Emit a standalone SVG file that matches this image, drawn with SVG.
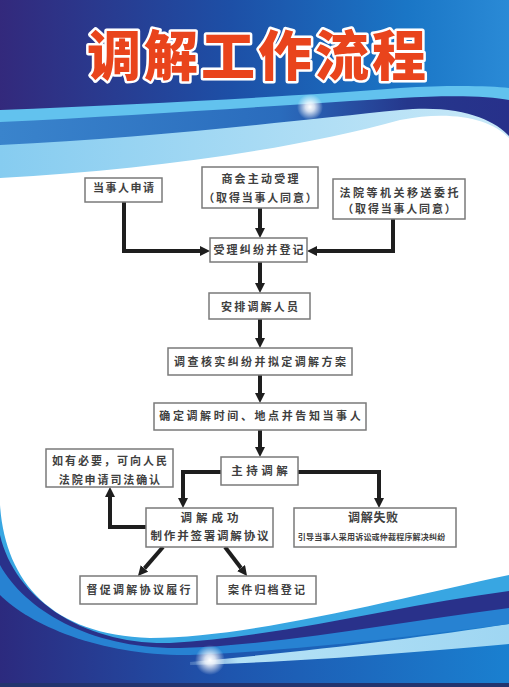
<svg xmlns="http://www.w3.org/2000/svg" width="509" height="687" viewBox="0 0 509 687">
<defs>
<linearGradient id="gTop" x1="0" y1="0" x2="1" y2="0">
<stop offset="0" stop-color="#33297c"/><stop offset="0.45" stop-color="#1d4fa6"/><stop offset="0.8" stop-color="#1a76c6"/><stop offset="1" stop-color="#2a8ad6"/>
</linearGradient>
<linearGradient id="gMid" x1="0" y1="0" x2="1" y2="0">
<stop offset="0" stop-color="#3a84cc"/><stop offset="0.55" stop-color="#2a6cbd"/><stop offset="0.8" stop-color="#25378c"/><stop offset="1" stop-color="#27308a"/>
</linearGradient>
<linearGradient id="gLight" x1="0" y1="0" x2="1" y2="0">
<stop offset="0" stop-color="#86ccf0"/><stop offset="1" stop-color="#c9e9f8"/>
</linearGradient>
<linearGradient id="gBot" x1="0" y1="0" x2="1" y2="0">
<stop offset="0" stop-color="#2c2a7e"/><stop offset="0.45" stop-color="#1e55ae"/><stop offset="1" stop-color="#1a80d0"/>
</linearGradient>
<linearGradient id="gPale" x1="0" y1="0" x2="1" y2="0">
<stop offset="0" stop-color="#cdeefc" stop-opacity="0.2"/><stop offset="0.15" stop-color="#b5e2f6"/><stop offset="1" stop-color="#9fd6f2"/>
</linearGradient>
<radialGradient id="gSpark">
<stop offset="0" stop-color="#ffffff"/><stop offset="0.35" stop-color="#ffffff" stop-opacity="0.8"/><stop offset="1" stop-color="#ffffff" stop-opacity="0"/>
</radialGradient>
<marker id="ah" viewBox="0 0 10 10" refX="0" refY="5" markerWidth="10" markerHeight="10" markerUnits="userSpaceOnUse" orient="auto">
<path d="M0,0 L10,5 L0,10 z" fill="#1e1e1e"/>
</marker>
</defs>
<style>
.box{fill:#ffffff;stroke:#7a7a7a;stroke-width:1.5}
.t{font-family:"Noto Sans CJK SC","Noto Sans",sans-serif;font-weight:bold;fill:#404040;font-size:11px;text-anchor:middle}
.ln{fill:none;stroke:#1e1e1e;stroke-width:4;stroke-linejoin:miter;marker-end:url(#ah)}
.title{font-family:"Noto Sans CJK SC",sans-serif;font-weight:900;font-size:54px;fill:#e9441c;stroke:#ffffff;stroke-width:5;paint-order:stroke;stroke-linejoin:round;text-anchor:middle;letter-spacing:3px}
</style>
<g id="background">
<rect x="0" y="0" width="509" height="687" fill="url(#gTop)"/>
<path d="M0 110 C150 104 300 96 400 88 C450 85 490 86 509 88 L509 420 L0 420 Z" fill="#62c2ee"/>
<path d="M0 122 C150 115 300 104 400 98 C450 95 490 96 509 100 L509 420 L0 420 Z" fill="url(#gMid)"/>
<path d="M0 145 C150 138 300 120 400 110 C460 104 495 120 509 136 L509 420 L0 420 Z" fill="url(#gLight)"/>
<rect x="0" y="470" width="509" height="217" fill="url(#gBot)"/>
<path d="M190 662 C300 652 420 638 509 624 L509 644 C420 652 300 662 190 665 Z" fill="url(#gPale)"/>
<path d="M0 470 L509 470 L509 624 C400 638 280 652 190 655 C100 656 30 625 0 595 Z" fill="#2782d2"/>
<path d="M0 470 L509 470 L509 608 C400 622 280 645 180 648 C90 649 25 610 0 565 Z" fill="#29318a"/>
<path d="M0 470 L509 470 L509 591 C400 605 280 637 170 643 C85 645 15 600 0 535 Z" fill="#38a6e2"/>
<path d="M0 178 C150 170 300 148 400 120 C450 110 490 118 509 138 L509 575 C400 598 250 638 150 638 C50 635 5 580 0 505 Z" fill="#ffffff"/>
<rect x="0" y="683" width="509" height="4" fill="#22346e"/>
<circle cx="310" cy="107" r="13" fill="url(#gSpark)"/>
<circle cx="210" cy="660" r="15" fill="url(#gSpark)"/>
</g>
<text class="title" x="258" y="76">调解工作流程</text>
<g id="connectors">
<path class="ln" d="M124 202 V251 H200"/>
<path class="ln" d="M260 208 V228"/>
<path class="ln" d="M393 219 V251 H317"/>
<path class="ln" d="M260 262 V283"/>
<path class="ln" d="M260 319 V338"/>
<path class="ln" d="M260 375 V393"/>
<path class="ln" d="M260 430 V447"/>
<path class="ln" d="M221 472 H183 V498"/>
<path class="ln" d="M298 472 H379 V498"/>
<path class="ln" d="M146 527 H110 V497"/>
<path class="ln" d="M163 547 L144.5 568.4"/>
<path class="ln" d="M225 547 L241 568"/>
</g>
<g id="n1"><rect class="box" x="85" y="178" width="77" height="24"/><text class="t" x="124.2" y="192" style="letter-spacing:1.5px">当事人申请</text></g>
<g id="n2"><rect class="box" x="202" y="167" width="116" height="41"/><text class="t" x="261" y="183" style="letter-spacing:2.2px">商会主动受理</text><text class="t" x="260.9" y="202" style="letter-spacing:1.8px">（取得当事人同意）</text></g>
<g id="n3"><rect class="box" x="333" y="179" width="132" height="40"/><text class="t" x="400.2" y="197" style="letter-spacing:2.5px">法院等机关移送委托</text><text class="t" x="399.9" y="213" style="letter-spacing:1.8px">（取得当事人同意）</text></g>
<g id="n4"><rect class="box" x="210" y="238" width="97" height="24"/><text class="t" x="259.6" y="254" style="letter-spacing:2.2px">受理纠纷并登记</text></g>
<g id="n5"><rect class="box" x="209" y="293" width="101" height="26"/><text class="t" x="260.6" y="311" style="letter-spacing:2.2px">安排调解人员</text></g>
<g id="n6"><rect class="box" x="168" y="348" width="184" height="27"/><text class="t" x="261.2" y="366" style="letter-spacing:2.4px">调查核实纠纷并拟定调解方案</text></g>
<g id="n7"><rect class="box" x="154" y="403" width="212" height="27"/><text class="t" x="261.3" y="420" style="letter-spacing:2.6px">确定调解时间、地点并告知当事人</text></g>
<g id="n8"><rect class="box" x="221" y="457" width="77" height="28"/><text class="t" x="261.2" y="475" style="font-size:11.5px;letter-spacing:3.5px">主持调解</text></g>
<g id="n9"><rect class="box" x="46" y="449" width="127" height="38"/><text class="t" x="110.5" y="465" style="letter-spacing:2px">如有必要，可向人民</text><text class="t" x="110.4" y="484" style="letter-spacing:1.9px">法院申请司法确认</text></g>
<g id="n10"><rect class="box" x="146" y="508" width="127" height="39"/><text class="t" x="211.5" y="522" style="font-size:11.5px;letter-spacing:4px">调解成功</text><text class="t" x="210.4" y="540" style="font-size:11.5px;letter-spacing:1.8px">制作并签署调解协议</text></g>
<g id="n11"><rect class="box" x="294" y="508" width="162" height="39"/><text class="t" x="373.4" y="522" style="font-size:12px;letter-spacing:0.7px">调解失败</text><text class="t" x="371.6" y="539.5" style="font-size:8px;letter-spacing:0.2px">引导当事人采用诉讼或仲裁程序解决纠纷</text></g>
<g id="n12"><rect class="box" x="80" y="576" width="117" height="28"/><text class="t" x="139.6" y="594" style="letter-spacing:2.3px">督促调解协议履行</text></g>
<g id="n13"><rect class="box" x="217" y="576" width="99" height="28"/><text class="t" x="267.6" y="594" style="letter-spacing:2.2px">案件归档登记</text></g>
</svg>
